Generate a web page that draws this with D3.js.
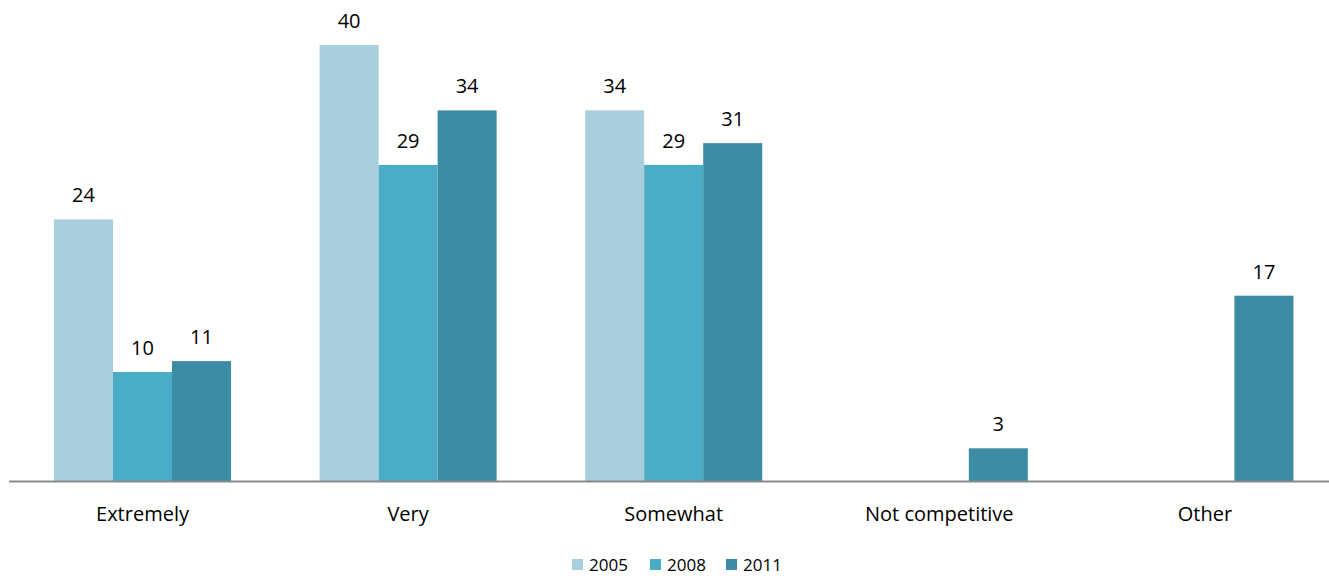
<!DOCTYPE html>
<html>
<head>
<meta charset="utf-8">
<script src="https://cdn.jsdelivr.net/npm/d3@7"></script>
<style>
  html, body { margin: 0; padding: 0; background: #fff; }
  svg { display: block; font-family: "Open Sans", Lato, sans-serif; }
</style>
</head>
<body>
<svg id="chart" width="1329" height="576"></svg>
<script>
// Competitiveness ratings by survey year
const categories = ["Extremely", "Very", "Somewhat", "Not competitive", "Other"];
const years = ["2005", "2008", "2011"];
const values2005 = [24, 40, 34, null, null];
const values2008 = [10, 29, 29, null, null];
const values2011 = [11, 34, 31, 3, 17];
const seriesColors = ["#A9CEDC", "#4BACC6", "#3C8CA3"];

const series = [values2005, values2008, values2011];

const W = 1329, H = 576;
const svg = d3.select("#chart");

const x0 = d3.scaleBand()
  .domain(categories)
  .range([9.7, 1337.7])
  .paddingInner(1 / 3)
  .paddingOuter(1 / 6);

const x1 = d3.scaleBand()
  .domain(years)
  .range([0, x0.bandwidth()]);

const y = d3.scaleLinear()
  .domain([0, 40])
  .range([481, 45]);

const color = d3.scaleOrdinal().domain(years).range(seriesColors);

const rows = [];
categories.forEach((c, i) => {
  years.forEach((yr, j) => {
    const v = series[j][i];
    if (v != null) rows.push({ cat: c, year: yr, value: v });
  });
});

const bars = svg.append("g");
bars.selectAll("rect")
  .data(rows)
  .join("rect")
  .attr("x", d => x0(d.cat) + x1(d.year))
  .attr("y", d => y(d.value))
  .attr("width", x1.bandwidth())
  .attr("height", d => y(0) - y(d.value))
  .attr("fill", d => color(d.year));

// value labels above bars
svg.append("g")
  .selectAll("text")
  .data(rows)
  .join("text")
  .attr("x", d => x0(d.cat) + x1(d.year) + x1.bandwidth() / 2)
  .attr("y", d => y(d.value) - 17)
  .attr("text-anchor", "middle")
  .attr("font-size", 20)
  .attr("fill", "#000")
  .text(d => d.value);

// category axis
const axis = svg.append("g")
  .attr("transform", `translate(0,${y(0)})`)
  .call(d3.axisBottom(x0).tickSize(0));
axis.select(".domain")
  .attr("d", `M9,0.5H${W}`)
  .attr("stroke", "#898989")
  .attr("stroke-width", 2);
axis.selectAll(".tick text")
  .attr("y", 40)
  .attr("dy", 0)
  .attr("font-family", "'Open Sans', Lato, sans-serif")
  .attr("font-size", 20)
  .attr("fill", "#000");

// legend
const legendX = [572, 650, 726];
const legend = svg.append("g")
  .selectAll("g")
  .data(years)
  .join("g")
  .attr("transform", (d, i) => `translate(${legendX[i]},559)`);
legend.append("rect")
  .attr("width", 11)
  .attr("height", 11)
  .attr("fill", d => color(d));
legend.append("text")
  .attr("x", 17)
  .attr("y", 12)
  .attr("font-size", 17)
  .attr("fill", "#000")
  .text(d => d);
</script>
</body>
</html>
